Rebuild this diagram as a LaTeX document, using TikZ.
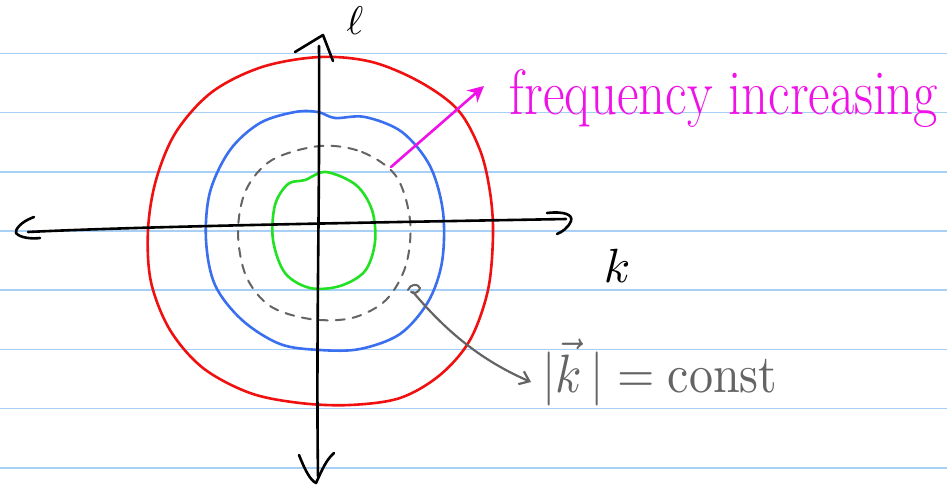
\documentclass[tikz,border=0pt]{standalone}
\usepackage{fontspec}
\usetikzlibrary{arrows.meta}
\definecolor{ruled}{HTML}{A8CFF5}
\definecolor{redc}{HTML}{F01010}
\definecolor{bluec}{HTML}{3A6FF0}
\definecolor{greenc}{HTML}{22E022}
\definecolor{magc}{HTML}{F010E8}
\definecolor{greyc}{HTML}{646464}
\tikzset{
  ruleline/.style={ruled, line width=1.6pt},
  pen/.style={line width=2.6pt, line cap=round, line join=round},
  axis/.style={pen, black},
  lbl/.style={inner sep=0pt, anchor=base},
}
\begin{document}
\begin{tikzpicture}[x=1pt,y=-1pt]
\useasboundingbox (0,0) rectangle (947,485);
\fill[white] (0,0) rectangle (947,485);
% ruled lines
\foreach \yy in {53.3,112.5,171.7,231,290,349.3,408.5,467.7}
  \draw[ruleline] (0,\yy) -- (947,\yy);
% red contour
\draw[pen, redc] plot[smooth cycle, tension=0.55] coordinates {
 (320,57) (372,62) (420,82) (458,110) (480,150) (490,192) (493,235) (488,290)
 (470,340) (440,375) (400,398) (350,405) (300,403) (250,393) (203,368) (170,330)
 (151,282) (148,230) (156,180) (176,132) (212,92) (262,67)};
% blue contour
\draw[pen, bluec] plot[smooth cycle, tension=0.55] coordinates {
 (318,112) (335,118) (365,117) (402,132) (430,166) (443,212) (442,262) (428,302)
 (400,334) (360,349) (320,350) (280,344) (242,320) (215,285) (206,240) (210,192)
 (230,150) (260,123) (295,112)};
% grey dashed contour
\draw[pen, greyc, line width=2pt, dash pattern=on 9pt off 8pt] plot[smooth cycle, tension=0.55] coordinates {
 (320,146) (362,152) (396,176) (410,220) (406,265) (386,300) (352,318) (310,319)
 (270,306) (246,276) (238,232) (246,190) (272,160)};
% green contour
\draw[pen, greenc] plot[smooth cycle, tension=0.55] coordinates {
 (326,172) (356,185) (372,210) (375,242) (365,271) (340,286) (310,288) (285,273)
 (273,240) (275,205) (288,184) (305,180)};
% axes
\coordinate (vtop) at (319,46);
\coordinate (vbot) at (318,476);
\coordinate (hleft) at (28,232);
\coordinate (hright) at (566,219);
\draw[axis] (vtop) .. controls (320,200) and (316,330) .. (vbot);
\draw[axis] (295,52) -- (323,35) -- (333,61);
\draw[axis] (299,455) .. controls (305,470) and (310,480) .. (316,483) .. controls (322,470) and (326,460) .. (334,453);
\draw[axis] (hleft) .. controls (150,226) and (400,222) .. (hright);
\draw[axis] (34,217) .. controls (20,222) and (15,230) .. (16,233) .. controls (20,238) and (32,239) .. (40,238);
\draw[axis] (547,213) .. controls (565,211) and (573,215) .. (571,221) .. controls (568,228) and (562,232) .. (557,234);
\node[lbl] (ell) at (355,34) {\scalebox{4}{$\ell$}};
\node[lbl] (k) at (617,282) {\scalebox{4.8}{$k$}};
% magenta pointer
\coordinate (mstart) at (391,167);
\coordinate (mend) at (484,86);
\draw[pen, magc, -{Stealth[length=16pt,width=16pt]}] (mstart) -- (mend);
\node[lbl, magc, font=\fontsize{40}{40}\selectfont] (freq) at (724,114) {\scalebox{1.32}[1.6]{frequency increasing}};
% grey pointer
\coordinate (gstart) at (413,292);
\coordinate (gend) at (531,382);
\draw[pen, greyc, line width=2.2pt, -{Straight Barb[length=9pt,width=14pt]}] (gstart) .. controls (445,330) and (480,360) .. (gend);
\draw[pen, greyc, line width=2pt] (408,290) .. controls (410,284) and (418,283) .. (420,288) .. controls (419,293) and (413,294) .. (411,292);
\node[lbl, greyc] (kconst) at (660,392) {\scalebox{4.8}[5.4]{$|\vec{k}\,| = \mathrm{const}$}};
\end{tikzpicture}
\end{document}
